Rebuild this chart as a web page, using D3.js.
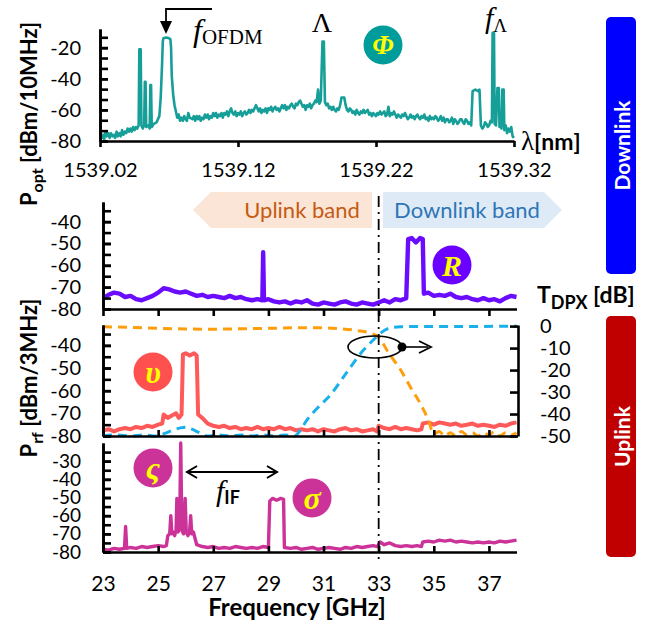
<!DOCTYPE html>
<html><head><meta charset="utf-8">
<script src="https://cdn.jsdelivr.net/npm/d3@7"></script>
<style>
body{margin:0;background:#fff;}
svg{display:block;}
</style></head><body>
<svg id="c" width="660" height="626"></svg>
<script>
// ---------------- DATA ----------------
// optical spectrum [wavelength nm, dBm/10MHz]
const optSpectrum = [
[1539.020,-75],[1539.021,-78],[1539.022,-76],[1539.023,-79],[1539.024,-74],[1539.025,-77],[1539.026,-75],[1539.027,-78],
[1539.028,-75],[1539.029,-77],[1539.030,-76],[1539.031,-78],[1539.032,-74],[1539.033,-77],[1539.034,-75],[1539.035,-77],
[1539.036,-73],[1539.037,-76],[1539.038,-74],[1539.039,-75],[1539.040,-72],[1539.041,-74],[1539.042,-72],[1539.043,-74],
[1539.044,-71],[1539.045,-73],[1539.046,-71],[1539.047,-72],[1539.048,-70],[1539.0485,-21],
[1539.0495,-21],[1539.050,-70],[1539.051,-72],[1539.052,-70],[1539.0525,-42],[1539.053,-42],[1539.0535,-71],[1539.055,-70],
[1539.056,-72],[1539.0565,-44],[1539.057,-44],[1539.0575,-71],[1539.059,-69],[1539.061,-68],[1539.063,-64],[1539.064,-52],
[1539.065,-30],[1539.0655,-16],[1539.066,-14],[1539.068,-13.5],[1539.070,-14],[1539.071,-14.5],[1539.0715,-20],[1539.072,-38],
[1539.073,-50],[1539.074,-57],[1539.075,-61],[1539.076,-65],[1539.077,-63],[1539.078,-67],[1539.079,-65],[1539.080,-67],
[1539.081,-64],[1539.082,-66],[1539.083,-67],[1539.084,-62],[1539.085,-65],
[1539.087,-66],[1539.088,-64],[1539.089,-67],[1539.090,-64],[1539.091,-66],[1539.092,-64],[1539.093,-67],[1539.094,-65],
[1539.095,-66],[1539.096,-63],[1539.097,-65],[1539.098,-63],[1539.099,-66],[1539.100,-64],[1539.101,-65],
[1539.102,-62],[1539.103,-64],[1539.104,-62],[1539.105,-65],[1539.106,-63],[1539.107,-64],[1539.108,-62],[1539.109,-65],
[1539.110,-62],[1539.111,-63],[1539.112,-61],[1539.113,-64],[1539.114,-61],[1539.115,-59],[1539.116,-62],[1539.117,-63],
[1539.118,-61],[1539.119,-64],[1539.120,-62],[1539.121,-63],[1539.122,-61],[1539.123,-64],[1539.124,-62],[1539.125,-61],
[1539.126,-63],[1539.127,-62],[1539.128,-60],[1539.129,-62],[1539.130,-60],[1539.131,-61],[1539.132,-59],[1539.133,-57],
[1539.134,-59],[1539.135,-61],[1539.136,-59],[1539.137,-62],[1539.138,-60],[1539.139,-61],[1539.140,-59],[1539.141,-62],
[1539.142,-59],[1539.143,-60],[1539.144,-58],[1539.145,-61],[1539.146,-59],[1539.147,-58],[1539.148,-60],[1539.149,-59],
[1539.150,-61],[1539.151,-59],[1539.152,-57],[1539.153,-59],[1539.154,-57],[1539.155,-60],[1539.156,-58],[1539.157,-59],
[1539.158,-57],[1539.159,-56],[1539.160,-58],[1539.161,-59],[1539.162,-56],[1539.163,-57],[1539.164,-55],[1539.165,-54],
[1539.166,-56],[1539.167,-58],[1539.168,-57],[1539.169,-60],[1539.170,-57],[1539.171,-58],[1539.172,-56],[1539.173,-59],
[1539.174,-57],[1539.175,-56],[1539.176,-54],[1539.177,-55],[1539.178,-47],[1539.179,-56],
[1539.180,-54],[1539.1812,-16],[1539.1822,-16],[1539.183,-55],[1539.184,-57],[1539.185,-56],[1539.186,-59],[1539.187,-58],
[1539.188,-60],[1539.189,-58],[1539.190,-60],[1539.191,-61],[1539.192,-59],
[1539.193,-60],[1539.194,-57],[1539.195,-52],[1539.197,-52],[1539.198,-57],[1539.199,-60],[1539.200,-61],[1539.201,-59],
[1539.202,-60],[1539.203,-62],[1539.204,-61],[1539.205,-63],[1539.206,-60],[1539.207,-62],[1539.208,-63],[1539.209,-61],
[1539.210,-62],[1539.211,-60],[1539.212,-62],[1539.213,-61],[1539.214,-60],[1539.215,-63],[1539.216,-62],[1539.217,-64],
[1539.218,-62],[1539.219,-63],[1539.220,-64],[1539.221,-62],[1539.222,-63],[1539.223,-61],[1539.224,-63],[1539.225,-62],
[1539.226,-61],[1539.227,-64],[1539.228,-63],[1539.229,-58],[1539.230,-64],[1539.231,-62],[1539.232,-63],[1539.233,-61],
[1539.234,-63],[1539.235,-65],[1539.236,-63],[1539.237,-64],[1539.238,-65],[1539.239,-63],[1539.240,-64],[1539.241,-62],
[1539.242,-64],[1539.243,-66],[1539.244,-65],[1539.245,-63],[1539.246,-65],[1539.247,-64],[1539.248,-66],[1539.249,-64],
[1539.250,-63],[1539.251,-65],[1539.252,-66],[1539.253,-64],[1539.254,-65],[1539.255,-63],[1539.256,-66],[1539.257,-65],
[1539.258,-67],[1539.259,-64],[1539.260,-66],[1539.261,-65],[1539.262,-66],[1539.263,-64],[1539.264,-65],[1539.265,-67],
[1539.266,-66],[1539.267,-64],[1539.268,-67],[1539.269,-65],[1539.270,-68],[1539.271,-66],[1539.272,-66],[1539.273,-68],
[1539.274,-67],[1539.275,-65],[1539.276,-69],[1539.277,-66],[1539.278,-67],[1539.279,-69],[1539.280,-68],[1539.281,-66],
[1539.282,-66],[1539.283,-68],[1539.284,-69],[1539.285,-66],[1539.286,-67],[1539.287,-69],[1539.288,-68],[1539.289,-70],
[1539.290,-48],[1539.292,-47],[1539.294,-48],[1539.295,-47],
[1539.296,-70],[1539.297,-72],[1539.298,-71],[1539.299,-68],[1539.300,-69],[1539.301,-71],[1539.302,-70],[1539.303,-67],
[1539.304,-68],[1539.3045,-10.5],[1539.3055,-10.5],[1539.306,-69],
[1539.307,-70],[1539.308,-46],[1539.309,-46],[1539.3095,-71],[1539.310,-69],[1539.311,-72],[1539.3115,-47],[1539.3125,-47],
[1539.313,-73],[1539.314,-70],[1539.315,-75],[1539.316,-72],[1539.317,-74],[1539.318,-71],[1539.319,-77],[1539.320,-78]
];
// downlink RF spectrum (R) [GHz, dBm/3MHz]
const rfDownlink = [
[23.0,-75],[23.2,-73.5],[23.4,-72.5],[23.6,-73],[23.8,-74.5],[24.0,-74],[24.2,-75.5],[24.4,-76],[24.6,-75],[24.8,-74],
[25.0,-72.5],[25.2,-70.5],[25.4,-71],[25.6,-72],[25.8,-72.5],[26.0,-72],[26.2,-73],[26.4,-74],[26.6,-73.5],[26.8,-74.5],
[27.0,-74],[27.2,-74.5],[27.4,-75],[27.6,-74],[27.8,-75],[28.0,-74.5],[28.2,-75.5],[28.4,-76],[28.6,-75.5],[28.78,-76],
[28.81,-54],[28.84,-76],[29.0,-75.5],[29.2,-76.5],[29.4,-77],[29.6,-76.5],[29.8,-77.5],[30.0,-76.5],[30.2,-77],[30.4,-76],
[30.6,-77.5],[30.8,-78],[31.0,-77],[31.2,-77.5],[31.4,-78],[31.6,-77],[31.8,-76.5],[32.0,-77.5],[32.2,-78],[32.4,-77],
[32.6,-77.5],[32.8,-78],[33.0,-77],[33.2,-76],[33.4,-77],[33.6,-75.5],[33.8,-76],[34.0,-75],[34.07,-48],[34.2,-47.5],
[34.35,-49.5],[34.5,-47.5],[34.6,-48],[34.64,-73],[34.8,-72.5],[35.0,-74],[35.2,-73.5],[35.4,-74],[35.6,-73],[35.8,-74.5],
[36.0,-75],[36.2,-74.5],[36.4,-75.5],[36.6,-76],[36.8,-75],[37.0,-76],[37.2,-75.5],[37.4,-76.5],[37.6,-75],[37.8,-74],[38.0,-74.5]
];
// uplink received RF spectrum (v) [GHz, dBm/3MHz]
const rfUplink = [
[23.0,-77.5],[23.2,-77],[23.4,-78],[23.6,-77],[23.8,-76.5],[24.0,-77],[24.2,-76],[24.4,-76.5],[24.6,-75.5],[24.8,-76],
[25.0,-75],[25.15,-74.5],[25.2,-70.5],[25.35,-72],[25.5,-71],[25.65,-70],[25.75,-72],[25.85,-70.5],[25.9,-44],[26.0,-43.5],
[26.15,-44.5],[26.3,-43.5],[26.4,-44.5],[26.45,-70.5],[26.6,-72],[26.8,-74.5],[27.0,-75.5],[27.2,-76],[27.4,-75.5],[27.6,-76.5],
[27.8,-76],[28.0,-77],[28.2,-76.5],[28.4,-77],[28.6,-76],[28.8,-77],[29.0,-76.5],[29.2,-77],[29.4,-76],[29.6,-77],
[29.8,-76.5],[30.0,-77.5],[30.2,-77],[30.4,-77.5],[30.6,-77],[30.8,-78],[31.0,-77],[31.2,-77.5],[31.4,-78],[31.6,-77],
[31.8,-76.5],[32.0,-77.5],[32.2,-77],[32.4,-78],[32.6,-77.5],[32.8,-77],[32.95,-78],[33.0,-75.5],[33.2,-76.5],[33.4,-77],
[33.6,-76],[33.8,-77],[34.0,-76.5],[34.2,-77],[34.4,-77.5],[34.55,-77],[34.6,-74.5],[34.8,-74],[35.0,-75],[35.2,-74],
[35.4,-74.5],[35.6,-75],[35.8,-74.5],[36.0,-75.5],[36.2,-75],[36.4,-74.5],[36.6,-75.5],[36.8,-75],[37.0,-75.5],[37.2,-76],
[37.4,-75],[37.6,-75.5],[37.8,-74.5],[38.0,-74]
];
// duplexer transmission [GHz, dB]
const tdpxUplinkPort = [
[23.0,-0.3],[24.0,-0.6],[25.0,-1.0],[26.0,-1.3],[27.0,-1.4],[28.0,-1.2],[29.0,-1.0],[30.0,-0.8],[31.0,-0.8],[31.6,-1.2],
[32.2,-2.0],[32.7,-3.2],[33.0,-5.0],[33.35,-12],[33.8,-20],[34.15,-27.7],[34.5,-35],[34.8,-42.7],[35.0,-49],[35.2,-48],
[35.4,-50],[35.6,-48.5],[35.8,-50],[36.0,-48],[36.2,-49.5],[36.4,-48.5],[36.6,-50],[36.8,-48.5],[37.0,-49.5],[37.2,-48],
[37.4,-50],[37.6,-48.5],[37.8,-49.5],[38.0,-48.5]
];
const tdpxDownlinkPort = [
[23.0,-50],[23.5,-49.5],[24.0,-50],[24.5,-49.5],[24.9,-50],[25.2,-49],[25.5,-47.5],[25.8,-46.3],[26.0,-46],[26.2,-46.8],
[26.5,-48.5],[26.8,-50],[27.2,-49.5],[27.6,-50],[28.0,-49.5],[28.4,-50],[28.8,-49.5],[29.2,-50],[29.6,-49.5],[29.95,-50],
[30.15,-47.5],[30.4,-42.7],[30.8,-37],[31.25,-31.3],[31.85,-20.9],[32.45,-10.9],[32.75,-7],[33.0,-4],[33.2,-2],[33.4,-0.9],
[33.8,-0.3],[34.5,-0.2],[36.0,-0.2],[38.0,0]
];
// IF / LO spectrum (ς, σ) [GHz, dBm/3MHz]
const rfIF = [
[23.0,-78.5],[23.2,-79],[23.4,-78],[23.6,-78.5],[23.78,-78],[23.82,-66],[23.86,-78],[24.0,-77.5],[24.2,-78],[24.4,-77],
[24.6,-77.5],[24.8,-77],[25.0,-76.5],[25.2,-77],[25.3,-76.5],[25.35,-71],[25.42,-70],[25.46,-60],[25.5,-70],[25.55,-69],
[25.6,-71],[25.65,-68],[25.68,-50.5],[25.72,-69],[25.78,-67],[25.82,-20],[25.86,-68],[25.92,-70],[25.98,-50.5],[26.02,-69],
[26.08,-71],[26.14,-69],[26.18,-60],[26.22,-70],[26.28,-69],[26.33,-72],[26.4,-76],[26.6,-77],[26.8,-77.5],[27.0,-77],
[27.2,-78],[27.4,-77.5],[27.6,-78],[27.8,-77],[28.0,-77.5],[28.2,-78],[28.4,-77.5],[28.6,-78],[28.8,-77],[29.0,-77.5],
[29.05,-52],[29.15,-50.5],[29.3,-51.5],[29.45,-50.5],[29.55,-51],[29.58,-77.5],[29.8,-78],[30.0,-77.5],[30.2,-78.5],[30.4,-78],
[30.6,-77.5],[30.8,-78.5],[31.0,-78],[31.2,-77.5],[31.4,-78],[31.6,-78.5],[31.8,-77.5],[32.0,-78],[32.2,-77],[32.4,-77.5],
[32.6,-77],[32.8,-76.5],[32.95,-77],[33.05,-74.5],[33.2,-76],[33.4,-75],[33.6,-76.5],[33.8,-77],[34.0,-76.5],[34.2,-77],
[34.4,-76.5],[34.55,-77],[34.6,-74.5],[34.8,-74],[35.0,-74.5],[35.2,-73.5],[35.4,-74],[35.6,-73.5],[35.8,-74.5],[36.0,-74],
[36.2,-74.5],[36.4,-75],[36.6,-74.5],[36.8,-75],[37.0,-74.5],[37.2,-75],[37.4,-74],[37.6,-74.5],[37.8,-74],[38.0,-73.5]
];
// tick labels
const optXTicks = [1539.02, 1539.12, 1539.22, 1539.32];
const optYTicks = [-80, -60, -40, -20];
const freqTicks = [23, 25, 27, 29, 31, 33, 35, 37];
const rfYTicks = [-80, -70, -60, -50, -40];
const ifYTicks = [-80, -70, -60, -50, -40, -30];
const tdpxTicks = [0, -10, -20, -30, -40, -50];
const duplexFreq = 33;

// ---------------- DRAW ----------------
const svg = d3.select('#c');
const LAB = 'Lato, sans-serif';
const SERIF = '"Liberation Serif", "DejaVu Serif", serif';

const xOpt = d3.scaleLinear([1539.02, 1539.32], [100, 514]);
const yOpt = d3.scaleLinear([-80, -8], [141, 29]);
const xRf = d3.scaleLinear([23, 38], [103, 516.5]);
const yR = d3.scaleLinear([-80, -31], [309, 202]);
const yU = d3.scaleLinear([-80, -31], [436, 325]);
const yT = d3.scaleLinear([-50, 0.5], [436, 325]);
const yS = d3.scaleLinear([-80, -20], [552, 443]);

function styleAxis(g, fs) {
  g.attr('font-family', LAB).attr('font-size', fs || 20);
  g.select('.domain').attr('stroke', '#000').attr('stroke-width', 2.6);
  g.selectAll('.tick line').attr('stroke', '#000').attr('stroke-width', 2.6);
  g.selectAll('.tick text').attr('fill', '#000');
  return g;
}
const range = (a, b, s) => { const r = []; for (let v = a; v <= b + 1e-9; v += s) r.push(+v.toFixed(4)); return r; };

// band banners
const bannerY0 = 192, bannerY1 = 228;
svg.append('path')
  .attr('d', `M193,210 L211,${bannerY0} L372,${bannerY0} L372,${bannerY1} L211,${bannerY1} Z`)
  .attr('fill', '#fbe5d6');
svg.append('path')
  .attr('d', `M383,${bannerY0} L544,${bannerY0} L562,210 L544,${bannerY1} L383,${bannerY1} Z`)
  .attr('fill', '#deebf7');
svg.append('text').attr('x', 302).attr('y', 218).attr('text-anchor', 'middle')
  .attr('font-family', LAB).attr('font-size', 22).attr('fill', '#c55a11').text('Uplink band');
svg.append('text').attr('x', 467).attr('y', 218).attr('text-anchor', 'middle')
  .attr('font-family', LAB).attr('font-size', 22).attr('fill', '#2e75b6').text('Downlink band');

// traces
const lineOpt = d3.line().x(d => xOpt(d[0])).y(d => yOpt(d[1]));
svg.append('path').datum(optSpectrum).attr('d', lineOpt)
  .attr('fill', 'none').attr('stroke', '#169e98').attr('stroke-width', 2.6).attr('stroke-linejoin', 'round');

svg.append('path').datum(rfDownlink).attr('d', d3.line().x(d => xRf(d[0])).y(d => yR(d[1])))
  .attr('fill', 'none').attr('stroke', '#6a0dff').attr('stroke-width', 4.4).attr('stroke-linejoin', 'round');

svg.append('path').datum(rfUplink).attr('d', d3.line().x(d => xRf(d[0])).y(d => yU(d[1])))
  .attr('fill', 'none').attr('stroke', '#ff5a5a').attr('stroke-width', 4).attr('stroke-linejoin', 'round');

const lineT = d3.line().curve(d3.curveMonotoneX).x(d => xRf(d[0])).y(d => yT(d[1]));
svg.append('path').datum(tdpxDownlinkPort).attr('d', lineT)
  .attr('fill', 'none').attr('stroke', '#19b0ec').attr('stroke-width', 3).attr('stroke-dasharray', '9,6');
svg.append('path').datum(tdpxUplinkPort).attr('d', lineT)
  .attr('fill', 'none').attr('stroke', '#ff9e0c').attr('stroke-width', 3).attr('stroke-dasharray', '9,6');

svg.append('path').datum(rfIF).attr('d', d3.line().x(d => xRf(d[0])).y(d => yS(d[1])))
  .attr('fill', 'none').attr('stroke', '#cc3399').attr('stroke-width', 3.4).attr('stroke-linejoin', 'round');

// ---- axes: optical panel
styleAxis(svg.append('g').attr('transform', 'translate(0,141)')
  .call(d3.axisBottom(xOpt).tickValues(optXTicks).tickSizeInner(6).tickSizeOuter(0).tickPadding(16)
    .tickFormat(d => d.toFixed(2))));
styleAxis(svg.append('g').attr('transform', 'translate(100,0)')
  .call(d3.axisLeft(yOpt).tickValues(range(-80, -12, 20 / 3)).tickSizeInner(-8).tickSizeOuter(0).tickFormat('')));
styleAxis(svg.append('g').attr('transform', 'translate(100,0)')
  .call(d3.axisLeft(yOpt).tickValues(optYTicks).tickSizeInner(-8).tickSizeOuter(0).tickPadding(19)
    .tickFormat(d => String(d))));

// ---- panel 2 (R)
styleAxis(svg.append('g').attr('transform', 'translate(0,309)')
  .call(d3.axisBottom(xRf).tickValues(freqTicks).tickSizeInner(7).tickSizeOuter(0).tickFormat('')));
styleAxis(svg.append('g').attr('transform', 'translate(103,0)')
  .call(d3.axisLeft(yR).tickValues(range(-80, -35, 5)).tickSizeInner(-8).tickSizeOuter(0).tickFormat('')));
styleAxis(svg.append('g').attr('transform', 'translate(103,0)')
  .call(d3.axisLeft(yR).tickValues(rfYTicks).tickSizeInner(-8).tickSizeOuter(0).tickPadding(22)
    .tickFormat(d => String(d))));

// ---- panel 3 (v + T_DPX)
styleAxis(svg.append('g').attr('transform', 'translate(0,436)')
  .call(d3.axisBottom(xRf).tickValues(freqTicks).tickSizeInner(-6).tickSizeOuter(0).tickFormat('')));
styleAxis(svg.append('g').attr('transform', 'translate(103,0)')
  .call(d3.axisLeft(yU).tickValues(range(-80, -35, 5)).tickSizeInner(-8).tickSizeOuter(0).tickFormat('')));
styleAxis(svg.append('g').attr('transform', 'translate(103,0)')
  .call(d3.axisLeft(yU).tickValues(rfYTicks).tickSizeInner(-8).tickSizeOuter(0).tickPadding(22)
    .tickFormat(d => String(d))));
styleAxis(svg.append('g').attr('transform', 'translate(518,0)')
  .call(d3.axisRight(yT).tickValues(tdpxTicks).tickSizeInner(-8).tickSizeOuter(0).tickPadding(22)
    .tickFormat(d => String(d))));

// ---- panel 4 (ς σ)
styleAxis(svg.append('g').attr('transform', 'translate(0,552)')
  .call(d3.axisBottom(xRf).tickValues(freqTicks).tickSizeInner(-6).tickSizeOuter(0).tickPadding(24)
    .tickFormat(d => String(d))), 21);
styleAxis(svg.append('g').attr('transform', 'translate(103,0)')
  .call(d3.axisLeft(yS).tickValues(range(-80, -25, 5)).tickSizeInner(-8).tickSizeOuter(0).tickFormat('')));
styleAxis(svg.append('g').attr('transform', 'translate(103,0)')
  .call(d3.axisLeft(yS).tickValues(ifYTicks).tickSizeInner(-8).tickSizeOuter(0).tickPadding(22)
    .tickFormat(d => String(d))), 19);

// duplexer boundary dash-dot line
svg.append('line').attr('x1', xRf(duplexFreq)).attr('x2', xRf(duplexFreq)).attr('y1', 196).attr('y2', 560)
  .attr('stroke', '#000').attr('stroke-width', 1.8).attr('stroke-dasharray', '11,5,2,5');

// ---- axis titles
function rotTitle(x, y, main, sub, rest) {
  const t = svg.append('text').attr('transform', `translate(${x},${y}) rotate(-90)`)
    .attr('text-anchor', 'middle').attr('font-family', LAB).attr('font-weight', 700).attr('font-size', 22).attr('fill', '#000');
  t.append('tspan').text(main);
  t.append('tspan').attr('font-size', 16).attr('dy', 6).text(sub);
  t.append('tspan').attr('dy', -6).text(rest);
}
rotTitle(37, 114, 'P', 'opt', ' [dBm/10MHz]');
rotTitle(37, 378, 'P', 'rf', ' [dBm/3MHz]');

const tt = svg.append('text').attr('x', 537).attr('y', 303).attr('font-family', LAB).attr('font-weight', 700)
  .attr('font-size', 23).attr('fill', '#000');
tt.append('tspan').text('T');
tt.append('tspan').attr('font-size', 18).attr('dy', 6).text('DPX');
tt.append('tspan').attr('dy', -6).text(' [dB]');

svg.append('text').attr('x', 297).attr('y', 616).attr('text-anchor', 'middle').attr('font-family', LAB)
  .attr('font-weight', 700).attr('font-size', 24).attr('fill', '#000').text('Frequency [GHz]');

const lt = svg.append('text').attr('x', 521).attr('y', 150).attr('fill', '#000');
lt.append('tspan').attr('font-family', SERIF).attr('font-size', 27).text('λ');
lt.append('tspan').attr('font-family', LAB).attr('font-weight', 700).attr('font-size', 23).text('[nm]');

// ---- annotations
// f_OFDM
svg.append('path').attr('d', 'M212,9 H166 V22').attr('fill', 'none').attr('stroke', '#000').attr('stroke-width', 1.8);
svg.append('path').attr('d', 'M160,21 L172,21 L166,34 Z').attr('fill', '#000');
const fo = svg.append('text').attr('x', 193).attr('y', 41).attr('fill', '#000').attr('font-family', SERIF);
fo.append('tspan').attr('font-style', 'italic').attr('font-size', 32).text('f');
fo.append('tspan').attr('font-size', 21).attr('dy', 3).text('OFDM');
// Lambda
svg.append('text').attr('x', 322).attr('y', 32).attr('text-anchor', 'middle').attr('font-family', SERIF)
  .attr('font-size', 28).attr('fill', '#000').text('Λ');
const fl = svg.append('text').attr('x', 485).attr('y', 28).attr('fill', '#000').attr('font-family', SERIF);
fl.append('tspan').attr('font-style', 'italic').attr('font-size', 30).text('f');
fl.append('tspan').attr('font-size', 19).attr('dy', 4).text('Λ');

// badge circles
function badge(cx, cy, fill, ch, fs) {
  svg.append('circle').attr('cx', cx).attr('cy', cy).attr('r', 19.5).attr('fill', fill);
  svg.append('text').attr('x', cx).attr('y', cy).attr('text-anchor', 'middle').attr('dominant-baseline', 'central')
    .attr('font-family', SERIF).attr('font-style', 'italic').attr('font-weight', 700).attr('font-size', fs || 28)
    .attr('fill', '#ffff00').text(ch);
}
badge(383, 45, '#009c9c', 'Φ', 27);
badge(452, 265, '#6a00ff', 'R', 30);
badge(153, 372, '#ff5050', 'υ', 32);
badge(153, 468, '#cc3399', 'ς', 32);
badge(312, 498, '#cc3399', 'σ', 32);

// ellipse with arrow
svg.append('ellipse').attr('cx', 375).attr('cy', 347).attr('rx', 27).attr('ry', 11)
  .attr('fill', 'none').attr('stroke', '#000').attr('stroke-width', 1.6);
svg.append('circle').attr('cx', 402).attr('cy', 347).attr('r', 4.5).attr('fill', '#000');
svg.append('line').attr('x1', 402).attr('x2', 428).attr('y1', 347).attr('y2', 347).attr('stroke', '#000').attr('stroke-width', 1.6);
svg.append('path').attr('d', 'M419,341 L431,347 L419,353').attr('fill', 'none').attr('stroke', '#000').attr('stroke-width', 1.8);

// f_IF double arrow
svg.append('line').attr('x1', 188).attr('x2', 276).attr('y1', 472).attr('y2', 472).attr('stroke', '#000').attr('stroke-width', 1.8);
svg.append('path').attr('d', 'M197,466 L187,472 L197,478').attr('fill', 'none').attr('stroke', '#000').attr('stroke-width', 2);
svg.append('path').attr('d', 'M267,466 L277,472 L267,478').attr('fill', 'none').attr('stroke', '#000').attr('stroke-width', 2);
const fi = svg.append('text').attr('x', 216).attr('y', 501).attr('fill', '#000');
fi.append('tspan').attr('font-family', SERIF).attr('font-style', 'italic').attr('font-size', 30).text('f');
fi.append('tspan').attr('font-family', LAB).attr('font-weight', 700).attr('font-size', 18).attr('dy', 3).text('IF');

// Downlink / Uplink side boxes
function sideBox(y0, y1, fill, label) {
  svg.append('rect').attr('x', 606).attr('y', y0).attr('width', 30).attr('height', y1 - y0).attr('rx', 5).attr('fill', fill);
  svg.append('text').attr('transform', `translate(621,${(y0 + y1) / 2}) rotate(-90)`).attr('text-anchor', 'middle')
    .attr('dominant-baseline', 'central').attr('font-family', LAB).attr('font-weight', 700).attr('font-size', 21)
    .attr('fill', '#fff').text(label);
}
sideBox(17, 274, '#0000ff', 'Downlink');
sideBox(316, 557, '#c00000', 'Uplink');
</script></body></html>
